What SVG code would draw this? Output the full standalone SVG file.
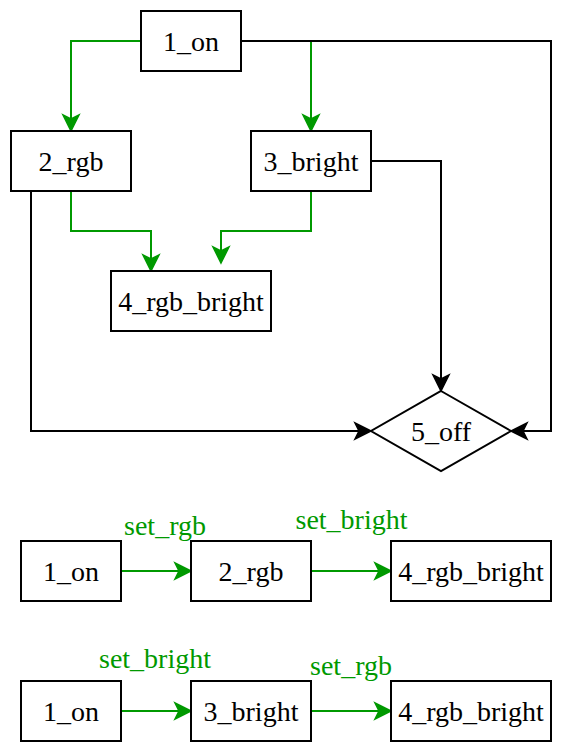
<svg xmlns="http://www.w3.org/2000/svg" width="578" height="752" viewBox="0 0 578 752">
<defs>
<marker id="ag" markerUnits="userSpaceOnUse" markerWidth="24" markerHeight="24" viewBox="-8 -12 24 24" refX="0" refY="0" orient="auto" overflow="visible">
<path d="M12,0 L-4,-8 L0,0 L-4,8 Z" fill="#009900" stroke="#009900" stroke-width="1.5"/>
</marker>
<marker id="ab" markerUnits="userSpaceOnUse" markerWidth="24" markerHeight="24" viewBox="-8 -12 24 24" refX="0" refY="0" orient="auto" overflow="visible">
<path d="M12,0 L-4,-8 L0,0 L-4,8 Z" fill="#000" stroke="#000" stroke-width="1.5"/>
</marker>
</defs>
<style>
.n{fill:#fff;stroke:#000;stroke-width:2}
text{font-family:'Liberation Serif','Times New Roman',Tinos,'DejaVu Serif',serif;font-size:28px;text-anchor:middle}
.t{fill:#000}
.l{fill:#009900}
.g{fill:none;stroke:#009900;stroke-width:2;marker-end:url(#ag)}
.b{fill:none;stroke:#000;stroke-width:2;marker-end:url(#ab)}
</style>
<rect width="578" height="752" fill="#fff"/>
<g id="connectors">
<path class="g" d="M241,41 L311,41 L311,119"/>
<path class="g" d="M141,41 L71,41 L71,119"/>
<path class="b" d="M241,41 L551,41 L551,431 L523,431"/>
<path class="b" d="M31,191 L31,431 L359,431"/>
<path class="g" d="M71,191 L71,231 L151,231 L151,259"/>
<path class="g" d="M311,191 L311,231 L221,231 L221,251"/>
<path class="b" d="M371,161 L441,161 L441,379"/>
<path class="g" d="M121,571 L179,571"/>
<path class="g" d="M311,571 L379,571"/>
<path class="g" d="M121,711 L179,711"/>
<path class="g" d="M311,711 L379,711"/>
</g>
<g id="labels">
<text class="l" x="165" y="535">set_rgb</text>
<text class="l" x="351.5" y="529">set_bright</text>
<text class="l" x="155" y="668">set_bright</text>
<text class="l" x="351" y="675">set_rgb</text>
</g>
<g id="n1_on"><rect class="n" x="141" y="11" width="100" height="60"/><text class="t" x="191" y="50.5">1_on</text></g>
<g id="n2_rgb"><rect class="n" x="11" y="131" width="120" height="60"/><text class="t" x="71" y="170.5">2_rgb</text></g>
<g id="n3_bright"><rect class="n" x="251" y="131" width="120" height="60"/><text class="t" x="311" y="170.5">3_bright</text></g>
<g id="n4_rgb_bright"><rect class="n" x="111" y="271" width="160" height="60"/><text class="t" x="191" y="310.5">4_rgb_bright</text></g>
<g id="n5_off"><path class="n" d="M441,391 L511,431 L441,471 L371,431 Z"/><text class="t" x="441" y="440.5">5_off</text></g>
<g id="a1_on"><rect class="n" x="21" y="541" width="100" height="60"/><text class="t" x="71" y="580.5">1_on</text></g>
<g id="a2_rgb"><rect class="n" x="191" y="541" width="120" height="60"/><text class="t" x="251" y="580.5">2_rgb</text></g>
<g id="a4_rgb_bright"><rect class="n" x="391" y="541" width="160" height="60"/><text class="t" x="471" y="580.5">4_rgb_bright</text></g>
<g id="b1_on"><rect class="n" x="21" y="681" width="100" height="60"/><text class="t" x="71" y="720.5">1_on</text></g>
<g id="b3_bright"><rect class="n" x="191" y="681" width="120" height="60"/><text class="t" x="251" y="720.5">3_bright</text></g>
<g id="b4_rgb_bright"><rect class="n" x="391" y="681" width="160" height="60"/><text class="t" x="471" y="720.5">4_rgb_bright</text></g>
</svg>
